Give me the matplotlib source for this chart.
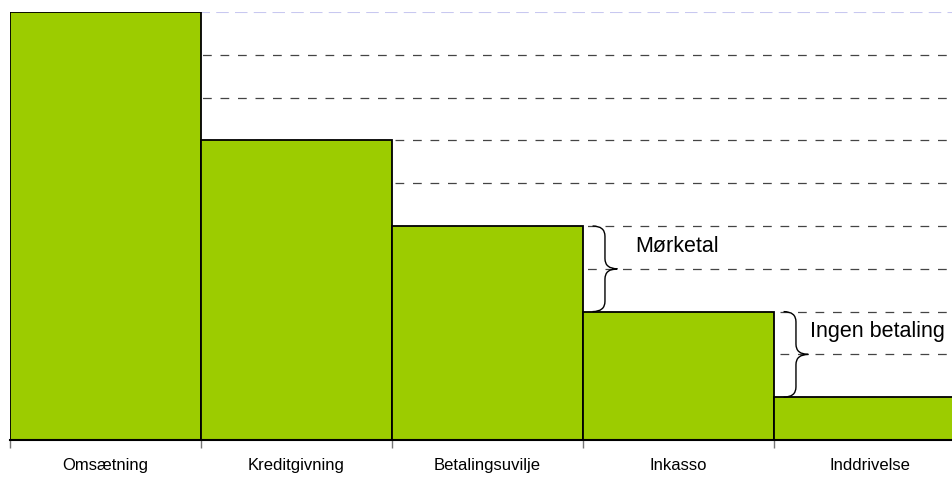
import matplotlib.pyplot as plt
from matplotlib.path import Path
from matplotlib.patches import PathPatch

plt.rcParams["font.family"] = ["Liberation Sans", "DejaVu Sans"]

categories = ["Omsætning", "Kreditgivning", "Betalingsuvilje", "Inkasso", "Inddrivelse"]
values = [10, 7, 5, 3, 1]
brace_labels = ["Mørketal", "Ingen betaling"]
brace_after = [2, 3]  # brace spans the drop from bar i to bar i+1

BAR_COLOR = "#9ccc00"
TEXT_OFFSETS = [0.272, 0.188]


def draw_brace(ax, x, y0, y1, w):
    ym = (y0 + y1) / 2
    r = (y1 - y0) * 0.12
    xm = x + w / 2
    verts = [
        (x, y1), (xm, y1), (xm, y1 - r),
        (xm, ym + r),
        (xm, ym), (x + w, ym),
        (xm, ym), (xm, ym - r),
        (xm, y0 + r),
        (xm, y0), (x, y0),
    ]
    codes = [
        Path.MOVETO, Path.CURVE3, Path.CURVE3,
        Path.LINETO,
        Path.CURVE3, Path.CURVE3,
        Path.CURVE3, Path.CURVE3,
        Path.LINETO,
        Path.CURVE3, Path.CURVE3,
    ]
    ax.add_patch(PathPatch(Path(verts, codes), fill=False, edgecolor="black",
                           linewidth=1.0, zorder=4))


fig = plt.figure(figsize=(9.52, 4.78), dpi=100)
ax = fig.add_axes([10 / 952, 38 / 478, 955 / 952, 428 / 478])

x = list(range(len(categories)))
ax.bar(x, values, width=1.0, color=BAR_COLOR, edgecolor="black", linewidth=1.3, zorder=3)

ax.set_xlim(-0.5, len(categories) - 0.5)
ax.set_ylim(0, 10)

for yv in range(1, 10):
    ax.axhline(yv, color="#444444", linestyle=(0, (7, 7)), linewidth=0.9, zorder=1)
ax.axhline(10, color="#c8c8f0", linestyle=(0, (6, 3)), linewidth=1.5, zorder=1)

for label, i, off in zip(brace_labels, brace_after, TEXT_OFFSETS):
    bx = i + 0.5
    draw_brace(ax, bx + 0.05, values[i + 1], values[i], 0.13)
    ax.text(bx + off, values[i + 1] + 0.7 * (values[i] - values[i + 1]), label,
            fontsize=15.5, ha="left", va="baseline", zorder=5)

for s in ["top", "right", "left"]:
    ax.spines[s].set_visible(False)
ax.spines["bottom"].set_linewidth(1.5)
ax.spines["bottom"].set_zorder(5)

ax.set_yticks([])
ax.set_xticks(x)
ax.set_xticklabels(categories, fontsize=12)
ax.tick_params(axis="x", which="major", length=0, pad=13)
ax.set_xticks([i - 0.5 for i in range(len(categories) + 1)], minor=True)
ax.tick_params(axis="x", which="minor", length=6, color="#777777", width=1)

fig.savefig("out.png", dpi=100)
